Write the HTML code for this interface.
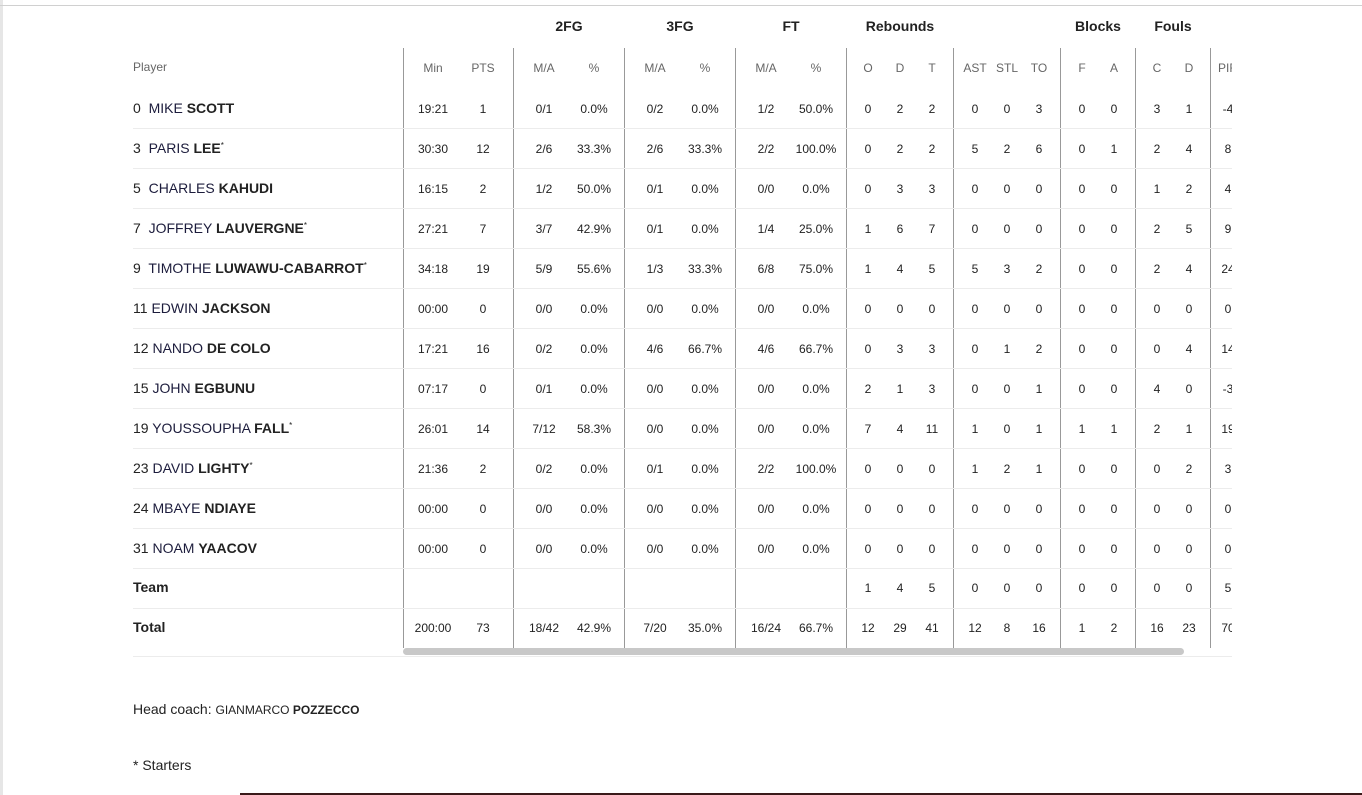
<!DOCTYPE html>
<html><head><meta charset="utf-8"><style>
body{margin:0;width:1362px;height:795px;background:#fff;position:relative;overflow:hidden;font-family:"Liberation Sans",sans-serif;color:#222}
.lb{position:absolute;left:0;top:0;width:3px;height:795px;background:#e6e6e6}
.tl{position:absolute;left:0;top:5px;width:1362px;height:1px;background:#d0d0d0}
.bl{position:absolute;left:240px;top:793px;width:1122px;height:2px;background:#3a1a1a}
.g{position:absolute;top:18px;font-size:14px;font-weight:bold;color:#222;transform:translateX(-50%)}
.v{position:absolute;top:48px;width:1px;height:600px;background:#999}
.s{position:absolute;left:133px;width:1099px;height:1px;background:#ececec}
.wrap{position:absolute;left:0;top:0;width:1232px;height:795px;overflow:hidden}
.r{position:absolute;left:0;width:1300px;height:20px;font-size:12px}
.r span{position:absolute;top:2px;transform:translateX(-50%);white-space:nowrap}
.r span:nth-child(1){left:133px;transform:none;font-size:14px;top:0}
.r span:nth-child(2){left:433px}.r span:nth-child(3){left:483px}
.r span:nth-child(4){left:544px}.r span:nth-child(5){left:594px}
.r span:nth-child(6){left:655px}.r span:nth-child(7){left:705px}
.r span:nth-child(8){left:766px}.r span:nth-child(9){left:816px}
.r span:nth-child(10){left:868px}.r span:nth-child(11){left:900px}
.r span:nth-child(12){left:932px}.r span:nth-child(13){left:975px}
.r span:nth-child(14){left:1007px}.r span:nth-child(15){left:1039px}
.r span:nth-child(16){left:1082px}.r span:nth-child(17){left:1114px}
.r span:nth-child(18){left:1157px}.r span:nth-child(19){left:1189px}
.r span:nth-child(20){left:1228px}
.r span span{top:0 !important}
.h{color:#666;font-size:12px}
.h span:nth-child(1){font-size:12px}
.fn{color:#1c1c3c}
sup{font-size:8px;vertical-align:5px}
.sb{position:absolute;left:403px;top:648px;width:781px;height:7px;border-radius:4px;background:#c8c8c8}
.t{position:absolute;left:133px;font-size:14px;color:#222}
</style></head><body>
<div class="lb"></div><div class="tl"></div><div class="bl"></div>
<div class="g" style="left:569px">2FG</div>
<div class="g" style="left:680px">3FG</div>
<div class="g" style="left:791px">FT</div>
<div class="g" style="left:900px">Rebounds</div>
<div class="g" style="left:1098px">Blocks</div>
<div class="g" style="left:1173px">Fouls</div>
<div class="v" style="left:403px"></div><div class="v" style="left:513px"></div>
<div class="v" style="left:624px"></div><div class="v" style="left:735px"></div>
<div class="v" style="left:846px"></div><div class="v" style="left:953px"></div>
<div class="v" style="left:1060px"></div><div class="v" style="left:1135px"></div>
<div class="v" style="left:1210px"></div>
<div class="s" style="top:128px"></div><div class="s" style="top:168px"></div>
<div class="s" style="top:208px"></div><div class="s" style="top:248px"></div>
<div class="s" style="top:288px"></div><div class="s" style="top:328px"></div>
<div class="s" style="top:368px"></div><div class="s" style="top:408px"></div>
<div class="s" style="top:448px"></div><div class="s" style="top:488px"></div>
<div class="s" style="top:528px"></div><div class="s" style="top:568px"></div>
<div class="s" style="top:608px"></div><div class="s" style="top:656px"></div>
<div class="wrap">
<div class="r h" style="top:59px"><span style="top:1px">Player</span><span>Min</span><span>PTS</span><span>M/A</span><span>%</span><span>M/A</span><span>%</span><span>M/A</span><span>%</span><span>O</span><span>D</span><span>T</span><span>AST</span><span>STL</span><span>TO</span><span>F</span><span>A</span><span>C</span><span>D</span><span>PIR</span></div>
<div class="r" style="top:100px"><span>0&nbsp; <span class="fn" style="position:static;transform:none">MIKE</span> <b>SCOTT</b></span><span>19:21</span><span>1</span><span>0/1</span><span>0.0%</span><span>0/2</span><span>0.0%</span><span>1/2</span><span>50.0%</span><span>0</span><span>2</span><span>2</span><span>0</span><span>0</span><span>3</span><span>0</span><span>0</span><span>3</span><span>1</span><span>-4</span></div>
<div class="r" style="top:140px"><span>3&nbsp; <span class="fn" style="position:static;transform:none">PARIS</span> <b>LEE</b><sup>*</sup></span><span>30:30</span><span>12</span><span>2/6</span><span>33.3%</span><span>2/6</span><span>33.3%</span><span>2/2</span><span>100.0%</span><span>0</span><span>2</span><span>2</span><span>5</span><span>2</span><span>6</span><span>0</span><span>1</span><span>2</span><span>4</span><span>8</span></div>
<div class="r" style="top:180px"><span>5&nbsp; <span class="fn" style="position:static;transform:none">CHARLES</span> <b>KAHUDI</b></span><span>16:15</span><span>2</span><span>1/2</span><span>50.0%</span><span>0/1</span><span>0.0%</span><span>0/0</span><span>0.0%</span><span>0</span><span>3</span><span>3</span><span>0</span><span>0</span><span>0</span><span>0</span><span>0</span><span>1</span><span>2</span><span>4</span></div>
<div class="r" style="top:220px"><span>7&nbsp; <span class="fn" style="position:static;transform:none">JOFFREY</span> <b>LAUVERGNE</b><sup>*</sup></span><span>27:21</span><span>7</span><span>3/7</span><span>42.9%</span><span>0/1</span><span>0.0%</span><span>1/4</span><span>25.0%</span><span>1</span><span>6</span><span>7</span><span>0</span><span>0</span><span>0</span><span>0</span><span>0</span><span>2</span><span>5</span><span>9</span></div>
<div class="r" style="top:260px"><span>9&nbsp; <span class="fn" style="position:static;transform:none">TIMOTHE</span> <b>LUWAWU-CABARROT</b><sup>*</sup></span><span>34:18</span><span>19</span><span>5/9</span><span>55.6%</span><span>1/3</span><span>33.3%</span><span>6/8</span><span>75.0%</span><span>1</span><span>4</span><span>5</span><span>5</span><span>3</span><span>2</span><span>0</span><span>0</span><span>2</span><span>4</span><span>24</span></div>
<div class="r" style="top:300px"><span>11 <span class="fn" style="position:static;transform:none">EDWIN</span> <b>JACKSON</b></span><span>00:00</span><span>0</span><span>0/0</span><span>0.0%</span><span>0/0</span><span>0.0%</span><span>0/0</span><span>0.0%</span><span>0</span><span>0</span><span>0</span><span>0</span><span>0</span><span>0</span><span>0</span><span>0</span><span>0</span><span>0</span><span>0</span></div>
<div class="r" style="top:340px"><span>12 <span class="fn" style="position:static;transform:none">NANDO</span> <b>DE COLO</b></span><span>17:21</span><span>16</span><span>0/2</span><span>0.0%</span><span>4/6</span><span>66.7%</span><span>4/6</span><span>66.7%</span><span>0</span><span>3</span><span>3</span><span>0</span><span>1</span><span>2</span><span>0</span><span>0</span><span>0</span><span>4</span><span>14</span></div>
<div class="r" style="top:380px"><span>15 <span class="fn" style="position:static;transform:none">JOHN</span> <b>EGBUNU</b></span><span>07:17</span><span>0</span><span>0/1</span><span>0.0%</span><span>0/0</span><span>0.0%</span><span>0/0</span><span>0.0%</span><span>2</span><span>1</span><span>3</span><span>0</span><span>0</span><span>1</span><span>0</span><span>0</span><span>4</span><span>0</span><span>-3</span></div>
<div class="r" style="top:420px"><span>19 <span class="fn" style="position:static;transform:none">YOUSSOUPHA</span> <b>FALL</b><sup>*</sup></span><span>26:01</span><span>14</span><span>7/12</span><span>58.3%</span><span>0/0</span><span>0.0%</span><span>0/0</span><span>0.0%</span><span>7</span><span>4</span><span>11</span><span>1</span><span>0</span><span>1</span><span>1</span><span>1</span><span>2</span><span>1</span><span>19</span></div>
<div class="r" style="top:460px"><span>23 <span class="fn" style="position:static;transform:none">DAVID</span> <b>LIGHTY</b><sup>*</sup></span><span>21:36</span><span>2</span><span>0/2</span><span>0.0%</span><span>0/1</span><span>0.0%</span><span>2/2</span><span>100.0%</span><span>0</span><span>0</span><span>0</span><span>1</span><span>2</span><span>1</span><span>0</span><span>0</span><span>0</span><span>2</span><span>3</span></div>
<div class="r" style="top:500px"><span>24 <span class="fn" style="position:static;transform:none">MBAYE</span> <b>NDIAYE</b></span><span>00:00</span><span>0</span><span>0/0</span><span>0.0%</span><span>0/0</span><span>0.0%</span><span>0/0</span><span>0.0%</span><span>0</span><span>0</span><span>0</span><span>0</span><span>0</span><span>0</span><span>0</span><span>0</span><span>0</span><span>0</span><span>0</span></div>
<div class="r" style="top:540px"><span>31 <span class="fn" style="position:static;transform:none">NOAM</span> <b>YAACOV</b></span><span>00:00</span><span>0</span><span>0/0</span><span>0.0%</span><span>0/0</span><span>0.0%</span><span>0/0</span><span>0.0%</span><span>0</span><span>0</span><span>0</span><span>0</span><span>0</span><span>0</span><span>0</span><span>0</span><span>0</span><span>0</span><span>0</span></div>
<div class="r" style="top:579px"><span><b>Team</b></span><span></span><span></span><span></span><span></span><span></span><span></span><span></span><span></span><span>1</span><span>4</span><span>5</span><span>0</span><span>0</span><span>0</span><span>0</span><span>0</span><span>0</span><span>0</span><span>5</span></div>
<div class="r" style="top:619px"><span><b>Total</b></span><span>200:00</span><span>73</span><span>18/42</span><span>42.9%</span><span>7/20</span><span>35.0%</span><span>16/24</span><span>66.7%</span><span>12</span><span>29</span><span>41</span><span>12</span><span>8</span><span>16</span><span>1</span><span>2</span><span>16</span><span>23</span><span>70</span></div>
</div>
<div class="sb"></div>
<div class="t" style="top:701px">Head coach: <span style="font-size:12px">GIANMARCO <b>POZZECCO</b></span></div>
<div class="t" style="top:757px">* Starters</div>
</body></html>
